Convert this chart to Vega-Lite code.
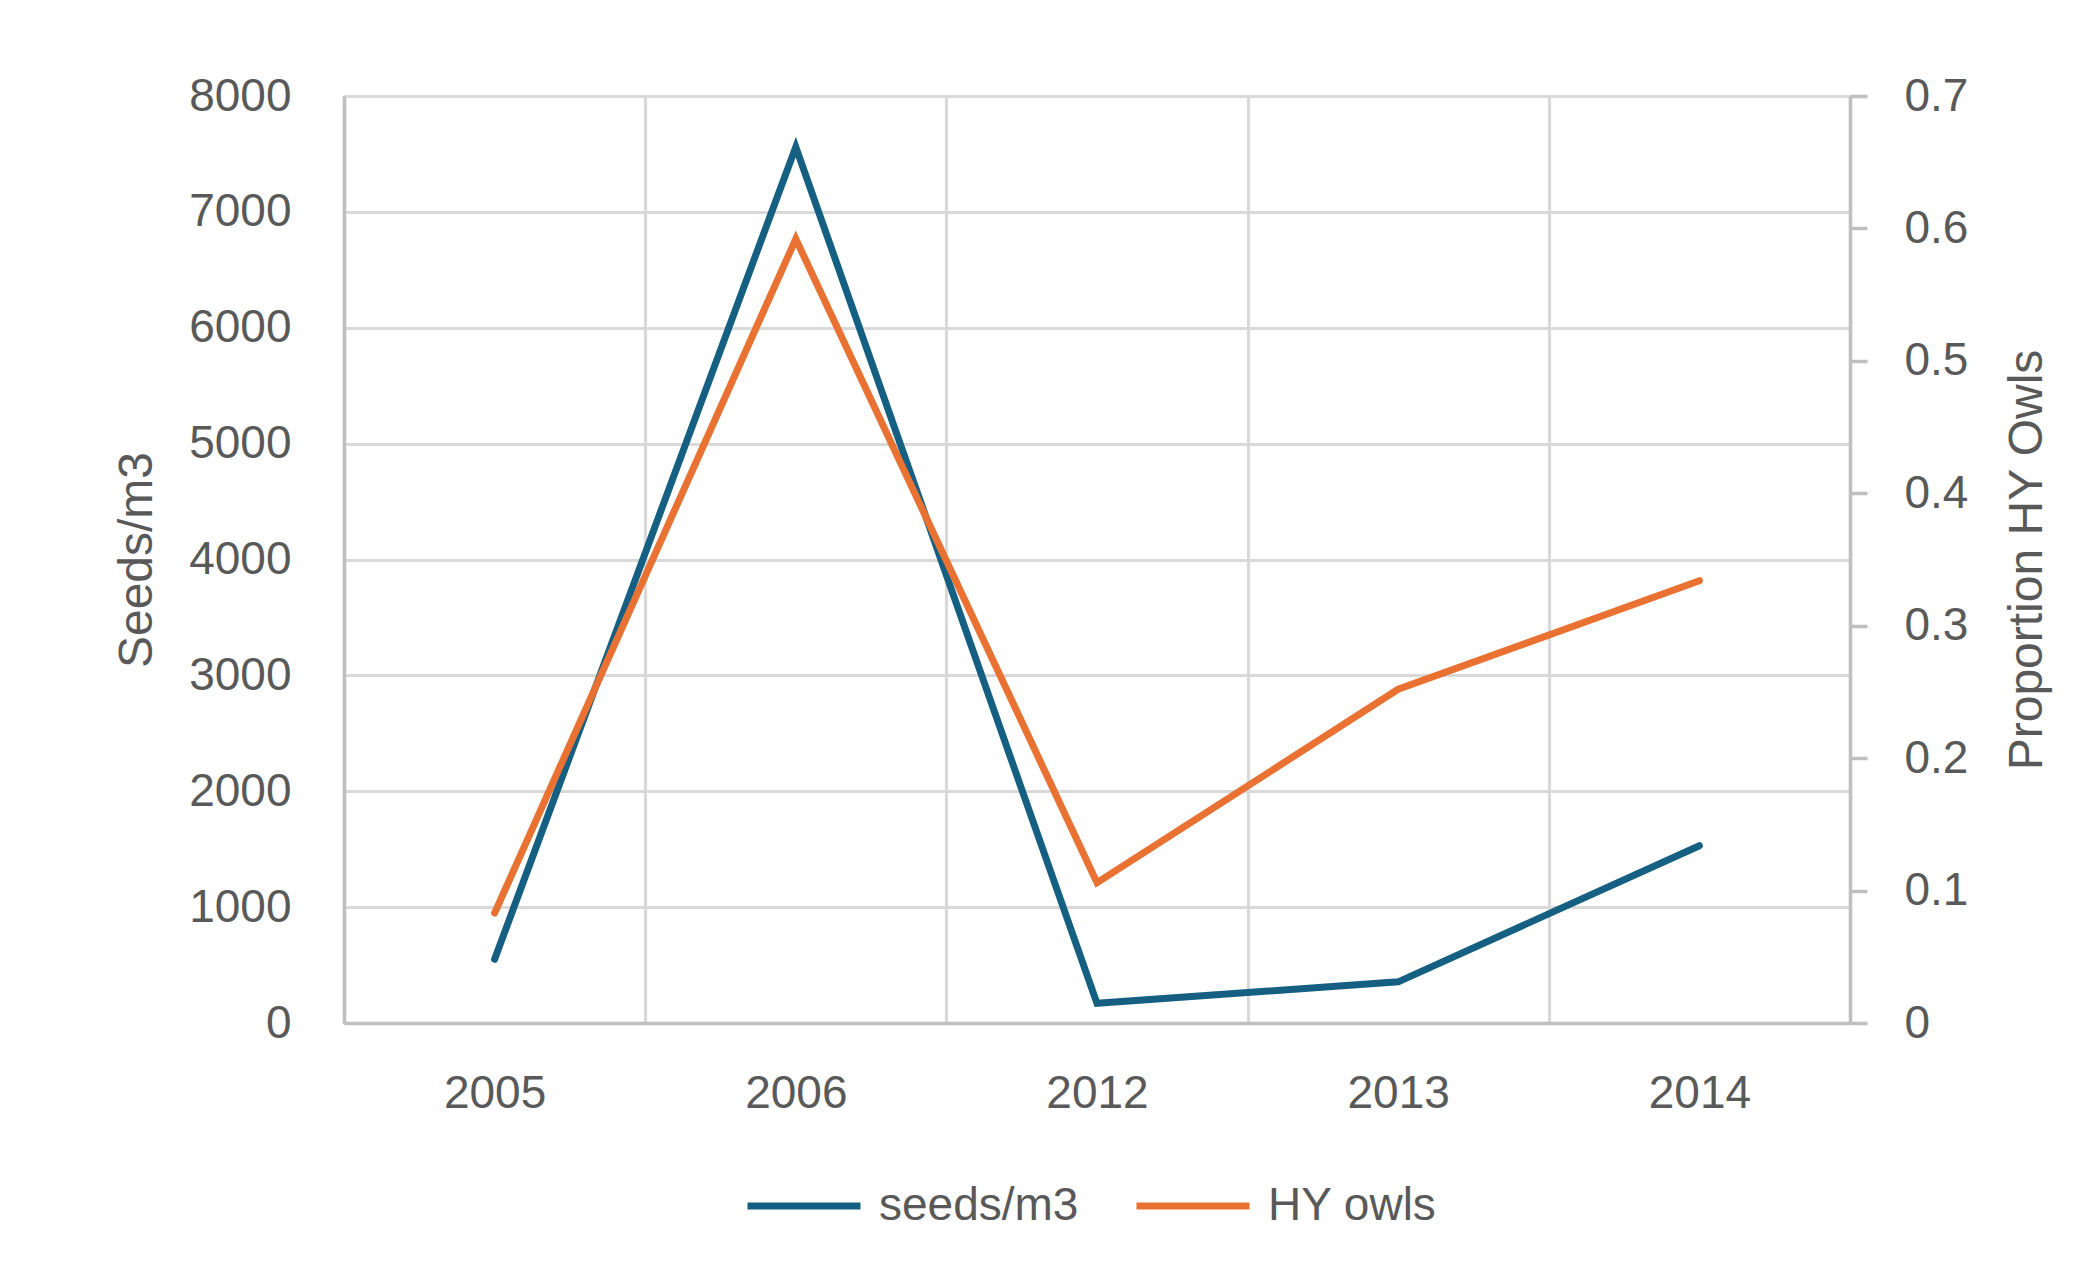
{
  "$schema": "https://vega.github.io/schema/vega-lite/v6.json",
  "width": 1506,
  "height": 927,
  "autosize": {"type": "none"},
  "padding": {"left": 344, "top": 96, "right": 241, "bottom": 244},
  "background": "white",
  "config": {
    "view": {"stroke": null},
    "font": "Liberation Sans",
    "axis": {
      "labelFont": "Liberation Sans",
      "titleFont": "Liberation Sans",
      "labelColor": "#595959",
      "titleColor": "#595959",
      "labelFontSize": 46,
      "titleFontSize": 48,
      "titleFontWeight": "normal",
      "domainColor": "#BFBFBF",
      "domainWidth": 3.5,
      "gridColor": "#D9D9D9",
      "gridWidth": 3.2,
      "tickColor": "#BFBFBF",
      "tickWidth": 3.5
    },
    "legend": {
      "labelFont": "Liberation Sans",
      "labelFontSize": 46,
      "labelColor": "#595959",
      "labelLimit": 0
    }
  },
  "data": {
    "values": [
      {"year": "2005", "series": "seeds/m3", "value": 550},
      {"year": "2006", "series": "seeds/m3", "value": 7560},
      {"year": "2012", "series": "seeds/m3", "value": 170},
      {"year": "2013", "series": "seeds/m3", "value": 355},
      {"year": "2014", "series": "seeds/m3", "value": 1530},
      {"year": "2005", "series": "HY owls", "value": 0.083},
      {"year": "2006", "series": "HY owls", "value": 0.592},
      {"year": "2012", "series": "HY owls", "value": 0.106},
      {"year": "2013", "series": "HY owls", "value": 0.252},
      {"year": "2014", "series": "HY owls", "value": 0.334}
    ]
  },
  "encoding": {
    "x": {
      "field": "year",
      "type": "ordinal",
      "bandPosition": 0.5,
      "scale": {"type": "band", "paddingInner": 0, "paddingOuter": 0},
      "axis": {
        "title": null,
        "labelAngle": 0,
        "tickBand": "extent",
        "ticks": false,
        "grid": true,
        "labelPadding": 48,
        "labelBaseline": "top"
      }
    },
    "color": {
      "field": "series",
      "type": "nominal",
      "scale": {"domain": ["seeds/m3", "HY owls"], "range": ["#156082", "#E97132"]},
      "legend": {
        "title": null,
        "orient": "none",
        "direction": "horizontal",
        "legendX": 400,
        "legendY": 1050,
        "symbolType": "stroke",
        "symbolSize": 12769,
        "symbolStrokeWidth": 7,
        "labelOffset": 15,
        "columnPadding": 43
      }
    }
  },
  "layer": [
    {
      "transform": [{"filter": "datum.series == 'seeds/m3'"}],
      "mark": {"type": "line", "strokeWidth": 7, "strokeCap": "round"},
      "encoding": {
        "y": {
          "field": "value",
          "type": "quantitative",
          "scale": {"domain": [0, 8000], "nice": false},
          "axis": {
            "orient": "left",
            "title": "Seeds/m3",
            "values": [0, 1000, 2000, 3000, 4000, 5000, 6000, 7000, 8000],
            "format": "d",
            "grid": true,
            "ticks": false,
            "labelPadding": 53,
            "titleX": -207,
            "titleY": 463.5,
            "titleAngle": 270,
            "titleAlign": "center",
            "titleBaseline": "middle"
          }
        }
      }
    },
    {
      "transform": [{"filter": "datum.series == 'HY owls'"}],
      "mark": {"type": "line", "strokeWidth": 7, "strokeCap": "round"},
      "encoding": {
        "y": {
          "field": "value",
          "type": "quantitative",
          "scale": {"domain": [0, 0.7], "nice": false},
          "axis": {
            "orient": "right",
            "title": "Proportion HY Owls",
            "values": [0, 0.1, 0.2, 0.3, 0.4, 0.5, 0.6, 0.7],
            "format": ".1~f",
            "grid": false,
            "ticks": true,
            "tickSize": 17,
            "labelPadding": 37,
            "titleX": 177,
            "titleY": 463.5,
            "titleAngle": 270,
            "titleAlign": "center",
            "titleBaseline": "middle"
          }
        }
      }
    }
  ],
  "resolve": {"scale": {"y": "independent"}}
}
